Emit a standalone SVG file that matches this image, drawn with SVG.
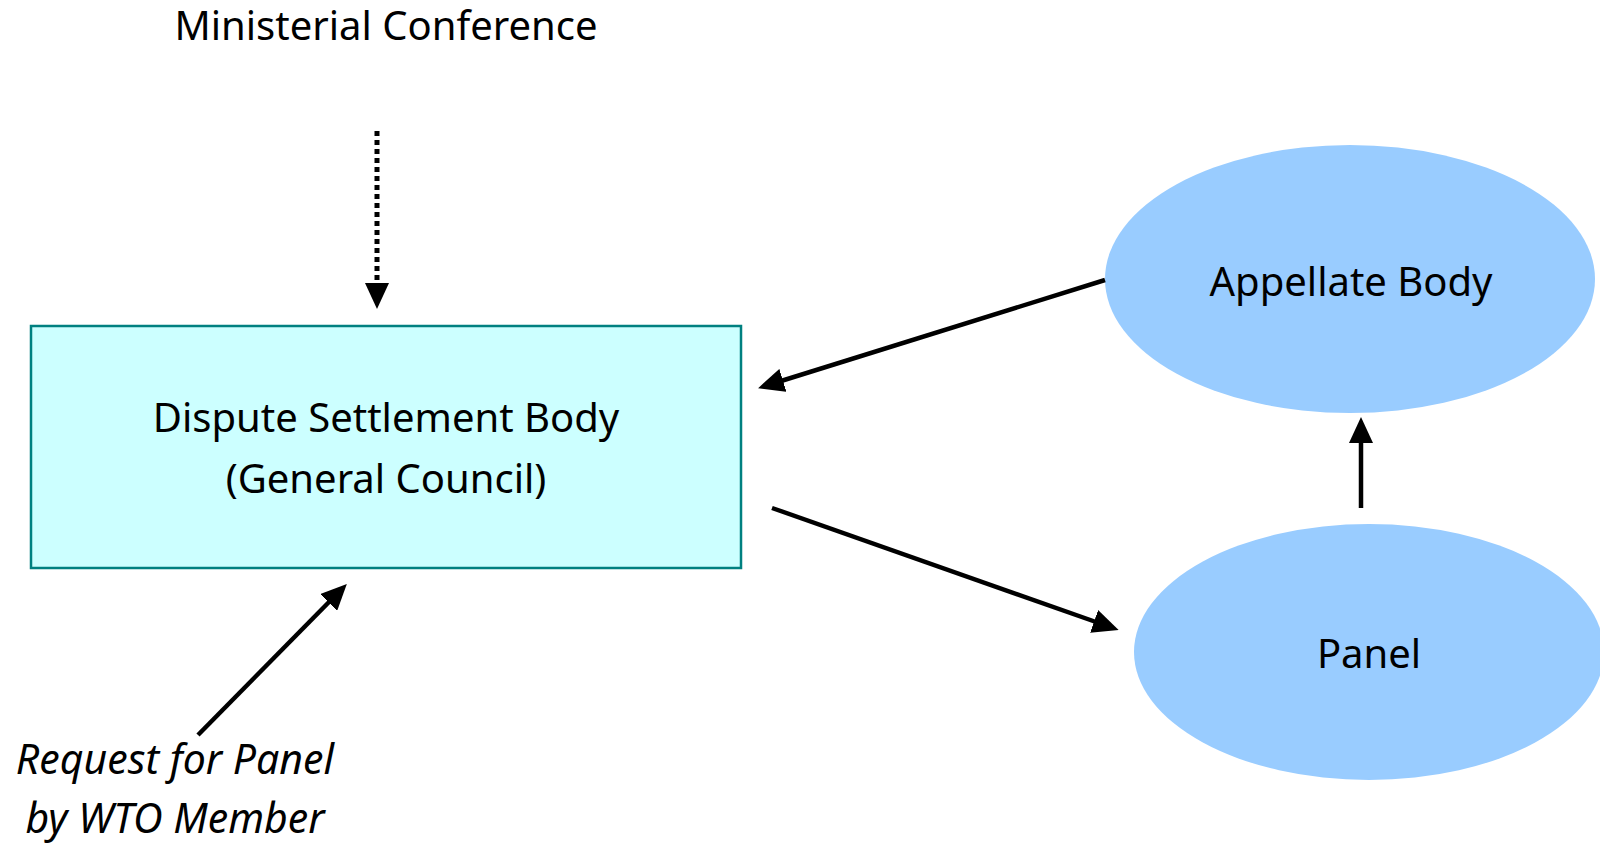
<svg xmlns="http://www.w3.org/2000/svg" width="1600" height="846" viewBox="0 0 1600 846">
<style>
text{font-family:"Noto Sans","Open Sans","DejaVu Sans",sans-serif;font-size:40px;fill:#000;text-anchor:middle}
.it{font-style:italic;font-size:41px}
.conn{stroke:#000;stroke-width:4.5;fill:none;marker-end:url(#ah)}
.dot{stroke-dasharray:5 4;stroke-width:5}
</style>
<defs>
<marker id="ah" markerUnits="userSpaceOnUse" markerWidth="26" markerHeight="24" refX="2" refY="12" orient="auto">
<path d="M0,0 L26,12 L0,24 z" fill="#000"/>
</marker>
</defs>
<rect width="1600" height="846" fill="#fff"/>
<g id="ministerial"><text x="386" y="40">Ministerial Conference</text></g>
<g id="dsb">
<rect x="31" y="326" width="710" height="242" fill="#CCFFFF" stroke="#008080" stroke-width="2.5"/>
<text x="386" y="432">Dispute Settlement Body</text>
<text x="386" y="493">(General Council)</text>
</g>
<g id="appellate">
<ellipse cx="1350" cy="279" rx="245" ry="134" fill="#99CCFF"/>
<text x="1351" y="296">Appellate Body</text>
</g>
<g id="panel">
<ellipse cx="1369" cy="652" rx="235" ry="128" fill="#99CCFF"/>
<text x="1369" y="668">Panel</text>
</g>
<g id="request"><text class="it" x="175" y="774">Request for Panel</text><text class="it" x="175" y="833">by WTO Member</text></g>
<g id="connectors">
<line class="conn dot" x1="377" y1="131" x2="377" y2="285"/>
<line class="conn" x1="1105" y1="280" x2="781" y2="381"/>
<line class="conn" x1="772" y1="508" x2="1096" y2="622"/>
<line class="conn" x1="1361" y1="508" x2="1361" y2="441"/>
<line class="conn" x1="198" y1="735" x2="330" y2="601"/>
</g>
</svg>
